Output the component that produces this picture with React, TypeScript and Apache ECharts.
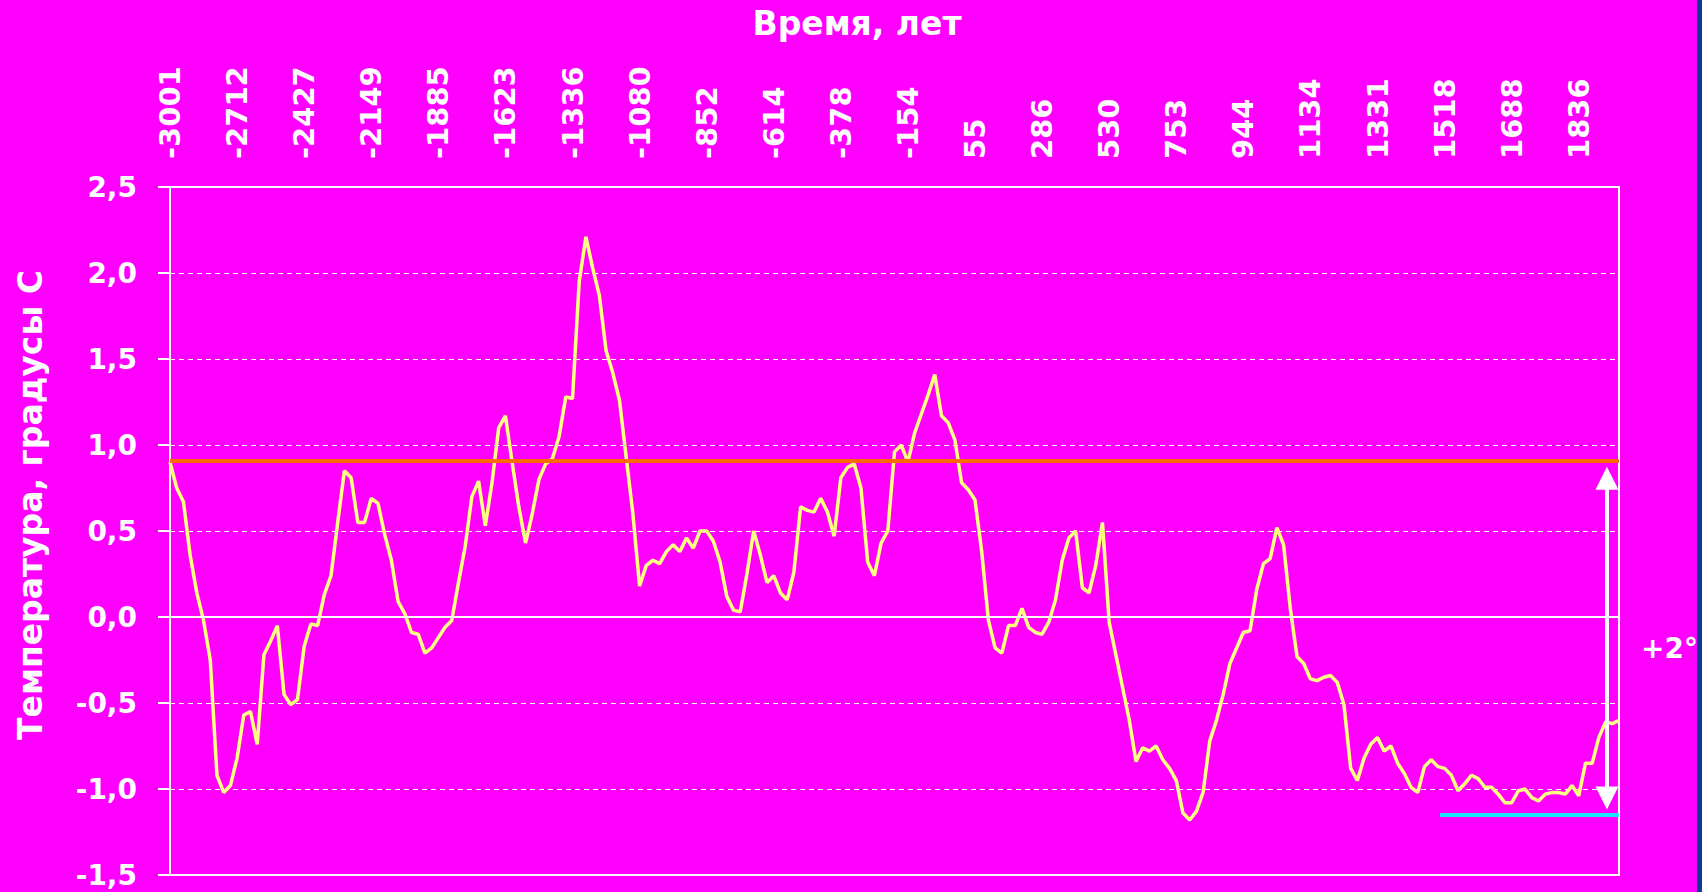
import React, { useEffect, useRef } from "react";
import * as echarts from "echarts";

// Year labels shown on the top (category) axis, one every LABEL_STEP samples
const tickYears = [
  "-3001", "-2712", "-2427", "-2149", "-1885", "-1623", "-1336", "-1080",
  "-852", "-614", "-378", "-154", "55", "286", "530", "753", "944", "1134",
  "1331", "1518", "1688", "1836",
];
const LABEL_STEP = 10;

// Temperature anomaly, °C
const temps = [
  0.90, 0.75, 0.67, 0.36, 0.14, -0.02, -0.25, -0.92, -1.02, -0.98,
  -0.82, -0.57, -0.55, -0.74, -0.22, -0.14, -0.05, -0.45, -0.51, -0.48,
  -0.17, -0.04, -0.05, 0.13, 0.24, 0.55, 0.85, 0.81, 0.55, 0.55,
  0.69, 0.66, 0.48, 0.33, 0.09, 0.02, -0.09, -0.10, -0.21, -0.18,
  -0.12, -0.06, -0.02, 0.20, 0.41, 0.70, 0.79, 0.53, 0.78, 1.10,
  1.17, 0.90, 0.64, 0.43, 0.60, 0.80, 0.89, 0.92, 1.05, 1.28,
  1.27, 1.95, 2.21, 2.03, 1.87, 1.55, 1.42, 1.26, 0.93, 0.60,
  0.18, 0.30, 0.33, 0.31, 0.38, 0.42, 0.38, 0.46, 0.40, 0.50,
  0.50, 0.44, 0.32, 0.12, 0.04, 0.03, 0.25, 0.50, 0.36, 0.20,
  0.24, 0.14, 0.10, 0.26, 0.64, 0.62, 0.61, 0.69, 0.61, 0.47,
  0.81, 0.87, 0.89, 0.75, 0.32, 0.24, 0.43, 0.50, 0.96, 1.00,
  0.90, 1.07, 1.18, 1.29, 1.41, 1.17, 1.13, 1.03, 0.78, 0.74,
  0.68, 0.38, -0.02, -0.18, -0.21, -0.05, -0.05, 0.05, -0.06, -0.09,
  -0.10, -0.03, 0.10, 0.33, 0.46, 0.50, 0.17, 0.14, 0.30, 0.55,
  -0.03, -0.22, -0.41, -0.60, -0.84, -0.76, -0.78, -0.75, -0.83, -0.88,
  -0.95, -1.14, -1.18, -1.13, -1.02, -0.72, -0.60, -0.45, -0.27, -0.18,
  -0.09, -0.08, 0.16, 0.31, 0.34, 0.52, 0.42, 0.05, -0.23, -0.27,
  -0.36, -0.37, -0.35, -0.34, -0.38, -0.51, -0.88, -0.95, -0.82, -0.74,
  -0.70, -0.78, -0.75, -0.85, -0.91, -0.99, -1.02, -0.87, -0.83, -0.87,
  -0.88, -0.92, -1.01, -0.97, -0.92, -0.94, -0.99, -0.99, -1.03, -1.08,
  -1.08, -1.01, -1.00, -1.05, -1.07, -1.03, -1.02, -1.02, -1.03, -0.98,
  -1.04, -0.85, -0.85, -0.70, -0.61, -0.62, -0.60,
];

const categories = temps.map((_, i) =>
  i % LABEL_STEP === 0 ? tickYears[i / LABEL_STEP] ?? "" : ""
);

// Reference levels and annotation values
const THRESHOLD = 0.91;
const BASELINE = -1.15;
const BASELINE_FROM = 189.3;
const ARROW_X = 214.2;
const ARROW_TOP = 0.806;
const ARROW_BOTTOM = -1.053;

const FONT = "DejaVu Sans";

export default function App() {
  const ref = useRef<HTMLDivElement>(null);

  useEffect(() => {
    if (!ref.current) return;
    const chart = echarts.init(ref.current, undefined, { renderer: "svg" });
    const last = temps.length - 1;
    chart.setOption({
      animation: false,
      backgroundColor: "#FF00FF",
      grid: {
        left: 170,
        right: 83,
        top: 187,
        bottom: 17,
        show: true,
        borderColor: "#FFFFFF",
        borderWidth: 2,
        backgroundColor: "transparent",
      },
      xAxis: [
        {
          type: "category",
          position: "top",
          data: categories,
          boundaryGap: false,
          axisLine: { show: false },
          axisTick: { show: false },
          splitLine: { show: false },
          axisLabel: {
            interval: LABEL_STEP - 1,
            rotate: 90,
            margin: 28,
            color: "#FFFFFF",
            fontFamily: FONT,
            fontWeight: "bold",
            fontSize: 29,
          },
        },
        { type: "value", min: 0, max: last, show: false },
      ],
      yAxis: {
        type: "value",
        min: -1.5,
        max: 2.5,
        interval: 0.5,
        axisLine: { show: true, lineStyle: { color: "#FFFFFF", width: 2 } },
        axisTick: { show: true, length: 12, lineStyle: { color: "#FFFFFF", width: 2 } },
        axisLabel: {
          margin: 33,
          color: "#FFFFFF",
          fontFamily: FONT,
          fontWeight: "bold",
          fontSize: 28,
          formatter: (v: number) => v.toFixed(1).replace(".", ","),
        },
        splitLine: { show: true, lineStyle: { color: "#FFFFFF", width: 1, type: [5, 4] } },
      },
      series: [
        {
          type: "line",
          xAxisIndex: 1,
          data: [],
          z: 2,
          silent: true,
          markLine: {
            silent: true,
            symbol: "none",
            label: { show: false },
            data: [
              { yAxis: THRESHOLD, lineStyle: { color: "#FF6A00", width: 4, type: "solid" } },
              { yAxis: 0, lineStyle: { color: "#FFFFFF", width: 2, type: "solid" } },
              [
                { coord: [BASELINE_FROM, BASELINE], lineStyle: { color: "#1AE6FF", width: 4, type: "solid" } },
                { coord: [last, BASELINE] },
              ],
            ],
          },
        },
        {
          type: "line",
          xAxisIndex: 0,
          data: temps,
          symbol: "none",
          z: 3,
          silent: true,
          lineStyle: { color: "#FFFF80", width: 3.5 },
        },
        {
          type: "line",
          xAxisIndex: 1,
          data: [],
          z: 4,
          silent: true,
          markLine: {
            silent: true,
            symbol: ["triangle", "triangle"],
            symbolSize: 23,
            label: { show: false },
            lineStyle: { color: "#FFFFFF", width: 4, type: "solid" },
            itemStyle: { color: "#FFFFFF" },
            data: [[{ coord: [ARROW_X, ARROW_TOP] }, { coord: [ARROW_X, ARROW_BOTTOM] }]],
          },
        },
      ],
      graphic: [
        {
          type: "rect",
          shape: { x: 1697, y: 0, width: 5, height: 892 },
          style: { fill: "#0B3B94" },
        },
        {
          type: "text",
          x: 857,
          y: 23,
          style: {
            text: "Время, лет",
            fill: "#FFFFFF",
            font: `bold 33px "${FONT}"`,
            textAlign: "center",
            textVerticalAlign: "middle",
          },
        },
        {
          type: "text",
          x: 30,
          y: 505,
          rotation: Math.PI / 2,
          style: {
            text: "Температура, градусы С",
            fill: "#FFFFFF",
            font: `bold 33px "${FONT}"`,
            textAlign: "center",
            textVerticalAlign: "middle",
          },
        },
        {
          type: "text",
          x: 1641,
          y: 648,
          style: {
            text: "+2°",
            fill: "#FFFFFF",
            font: `bold 28px "${FONT}"`,
            textAlign: "left",
            textVerticalAlign: "middle",
          },
        },
      ],
    });
    return () => chart.dispose();
  }, []);

  return (
    <div
      ref={ref}
      style={{ position: "fixed", left: 0, top: 0, width: 1702, height: 892 }}
    />
  );
}
